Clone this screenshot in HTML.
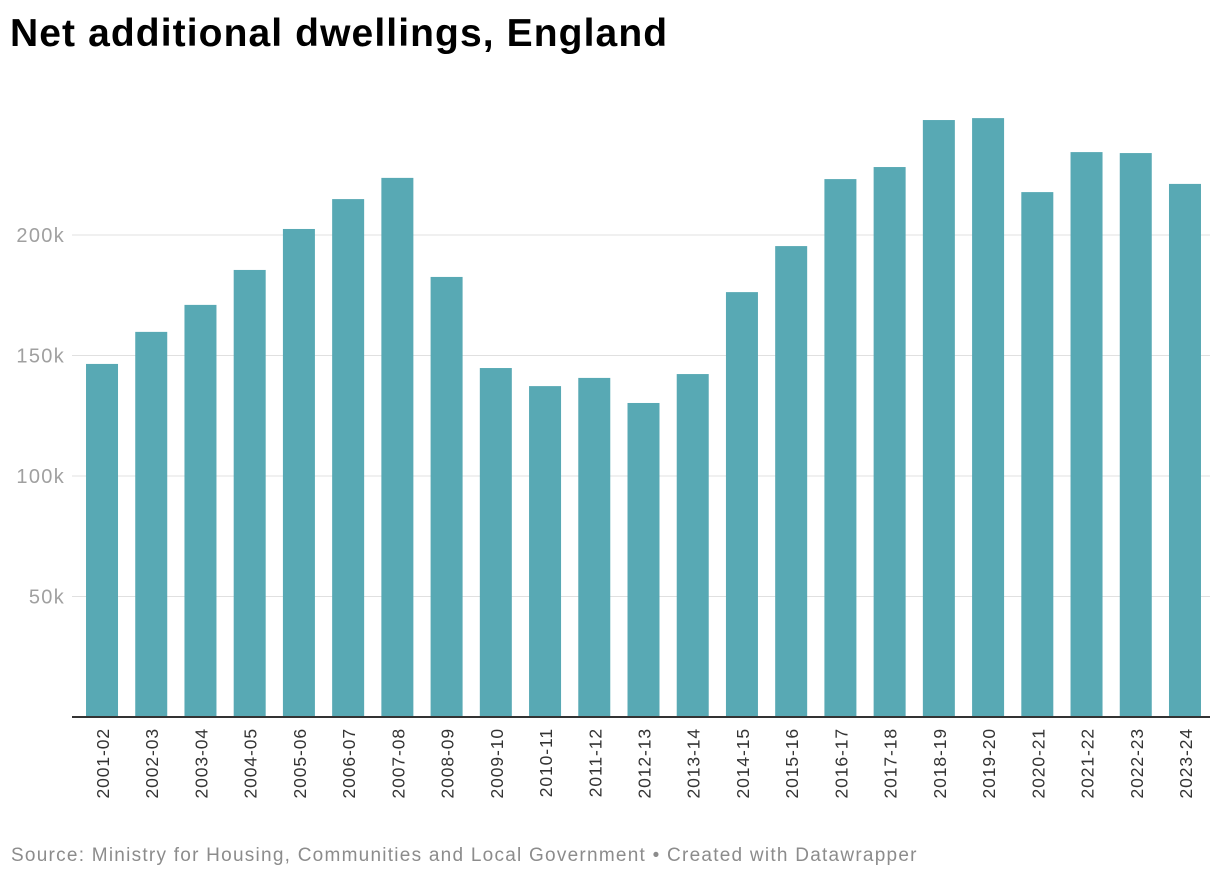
<!DOCTYPE html>
<html><head><meta charset="utf-8"><style>
body{margin:0;background:#fff;font-family:"Liberation Sans",Arial,sans-serif;}
#wrap{position:relative;width:1220px;height:880px;overflow:hidden;}
h1{position:absolute;left:10px;top:12px;margin:0;font-size:39px;font-weight:bold;color:#000;letter-spacing:1.1px;}
#src{position:absolute;left:11px;top:845px;font-size:19px;color:#8c8c8c;letter-spacing:1.25px;}
svg{position:absolute;left:0;top:0;}
</style></head><body>
<div id="wrap">
<h1>Net additional dwellings, England</h1>
<svg id="chart" width="1220" height="880"></svg>
<div id="src">Source: Ministry for Housing, Communities and Local Government • Created with Datawrapper</div>
</div>
<script>
const categories=["2001-02","2002-03","2003-04","2004-05","2005-06","2006-07","2007-08","2008-09","2009-10","2010-11","2011-12","2012-13","2013-14","2014-15","2015-16","2016-17","2017-18","2018-19","2019-20","2020-21","2021-22","2022-23","2023-24"];
const values=[146500,159800,171000,185500,202500,214900,223700,182600,144800,137300,140700,130300,142300,176300,195400,223200,228200,247700,248500,217800,234400,234000,221200];
const ticks=[50000,100000,150000,200000];
const tickLabels=["50k","100k","150k","200k"];

const NS="http://www.w3.org/2000/svg";
const svg=document.getElementById('chart');
const plotL=77.4,plotR=1209.6,base=717,top0=235;
const y=v=>base-(v/200000)*(base-top0);
const band=(plotR-plotL)/categories.length;
const barW=32;
const x=i=>plotL+band*i+(band-barW)/2;
function mk(t,a){const e=document.createElementNS(NS,t);for(const k in a)e.setAttribute(k,a[k]);svg.appendChild(e);return e;}
ticks.forEach((t,i)=>{
  const g=mk('line',{x1:72,x2:1210,y1:y(t),y2:y(t),stroke:'#e0e0e0','stroke-width':1});
  
  
  const l=mk('text',{x:65,y:y(t)+7,'text-anchor':'end','font-size':20,'letter-spacing':1.3,fill:'#a0a0a0','font-family':'Liberation Sans, Arial, sans-serif'});
  l.textContent=tickLabels[i];
  
  
});
values.forEach((v,i)=>{
  const r=mk('rect',{x:x(i),y:y(v),width:barW,height:base-y(v),fill:'#58a9b4'});
  
  
  const cx=x(i)+barW/2;
  const t=mk('text',{x:0,y:0,transform:`translate(${cx+7},728) rotate(-90)`,'text-anchor':'end','font-size':17.5,'letter-spacing':0.9,fill:'#333','font-family':'Liberation Sans, Arial, sans-serif'});
  t.textContent=categories[i];
  
  
});
const ax=mk('line',{x1:72,x2:1210,y1:base,y2:base,stroke:'#333','stroke-width':2});


</script>
</body></html>
